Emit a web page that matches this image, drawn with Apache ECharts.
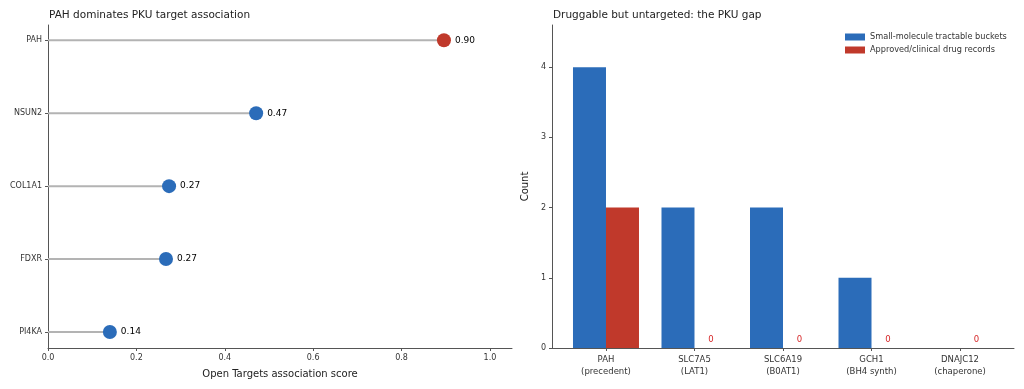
<!DOCTYPE html>
<html>
<head>
<meta charset="utf-8">
<script src="https://cdn.jsdelivr.net/npm/echarts@6/dist/echarts.min.js"></script>
<style>
    html, body { margin: 0; padding: 0; background: #fff; }
    #chart { width: 1024px; height: 389px; }
</style>
</head>
<body>
<div id="chart"></div>
<script>
    // left panel: association scores
    const targets = ['PAH', 'NSUN2', 'COL1A1', 'FDXR', 'PI4KA'];
    const scores = [0.896, 0.471, 0.274, 0.267, 0.140];
    const scoreTicks = [0, 0.2, 0.4, 0.6, 0.8, 1.0];

    // right panel: druggability counts
    const genes = ['PAH\n(precedent)', 'SLC7A5\n(LAT1)', 'SLC6A19\n(B0AT1)', 'GCH1\n(BH4 synth)', 'DNAJC12\n(chaperone)'];
    const tractable = [4, 2, 2, 1, 0];
    const approved = [2, 0, 0, 0, 0];
    const countTicks = [0, 1, 2, 3, 4];

    const BLUE = '#2b6cb9';
    const RED = '#c0392b';
    const FONT = 'DejaVu Sans';
    const idx = targets.map((_, i) => i);
    const geneIdx = genes.map((_, i) => i);

    const chart = echarts.init(document.getElementById('chart'));

    chart.setOption({
        animation: false,
        textStyle: { fontFamily: FONT },
        title: [
            { text: 'PAH dominates PKU target association', left: 44, top: 5,
              textStyle: { fontSize: 10.5, fontWeight: 'normal', color: '#222', fontFamily: FONT } },
            { text: 'Druggable but untargeted: the PKU gap', left: 548, top: 5,
              textStyle: { fontSize: 10.5, fontWeight: 'normal', color: '#222', fontFamily: FONT } }
        ],
        legend: {
            orient: 'vertical',
            left: 840,
            top: 28,
            itemWidth: 20,
            itemHeight: 7,
            itemGap: 5,
            icon: 'rect',
            textStyle: { fontSize: 8.2, color: '#333', fontFamily: FONT },
            data: ['Small-molecule tractable buckets', 'Approved/clinical drug records']
        },
        grid: [
            { left: 48, top: 25, width: 464, height: 323 },
            { left: 552, top: 25, right: 10, height: 323 }
        ],
        xAxis: [
            {
                gridIndex: 0, type: 'value', min: 0, max: 1.05,
                name: 'Open Targets association score', nameLocation: 'middle', nameGap: 21,
                nameTextStyle: { fontSize: 10, color: '#222', fontFamily: FONT },
                axisLine: { onZero: false, lineStyle: { color: '#555' } },
                axisTick: { show: true, length: 3, customValues: scoreTicks, lineStyle: { color: '#555' } },
                axisLabel: { customValues: scoreTicks, fontSize: 8, color: '#333', margin: 6,
                             formatter: v => v.toFixed(1) },
                splitLine: { show: false }
            },
            {
                gridIndex: 1, type: 'value', min: -0.61, max: 4.61,
                axisLine: { onZero: false, lineStyle: { color: '#555' } },
                axisTick: { show: true, length: 3, customValues: geneIdx, lineStyle: { color: '#555' } },
                axisLabel: { customValues: geneIdx, fontSize: 8.5, color: '#333', margin: 6, lineHeight: 12,
                             formatter: v => genes[Math.round(v)] },
                splitLine: { show: false }
            }
        ],
        yAxis: [
            {
                gridIndex: 0, type: 'value', inverse: true, min: -0.21, max: 4.22,
                axisLine: { show: true, onZero: false, lineStyle: { color: '#555' } },
                axisTick: { show: true, length: 3, customValues: idx, lineStyle: { color: '#555' } },
                axisLabel: { customValues: idx, fontSize: 8, color: '#333', margin: 6,
                             formatter: v => targets[Math.round(v)] },
                splitLine: { show: false }
            },
            {
                gridIndex: 1, type: 'value', min: 0, max: 4.6,
                name: 'Count', nameLocation: 'middle', nameGap: 22, nameRotate: 90,
                nameTextStyle: { fontSize: 10, color: '#222', fontFamily: FONT },
                axisLine: { show: true, onZero: false, lineStyle: { color: '#555' } },
                axisTick: { show: true, length: 3, customValues: countTicks, lineStyle: { color: '#555' } },
                axisLabel: { customValues: countTicks, fontSize: 8, color: '#333', margin: 6 },
                splitLine: { show: false }
            }
        ],
        series: [
            {
                type: 'custom',
                xAxisIndex: 0, yAxisIndex: 0,
                data: scores.map((v, i) => [v, i]),
                renderItem: function (params, api) {
                    const p0 = api.coord([0, api.value(1)]);
                    const p1 = api.coord([api.value(0), api.value(1)]);
                    return {
                        type: 'line',
                        shape: { x1: p0[0], y1: p0[1], x2: p1[0], y2: p1[1] },
                        style: { stroke: '#b3b3b3', lineWidth: 2 }
                    };
                },
                z: 1
            },
            {
                type: 'scatter',
                xAxisIndex: 0, yAxisIndex: 0,
                symbolSize: 14,
                data: scores.map((v, i) => ({
                    value: [v, i],
                    itemStyle: { color: i === 0 ? RED : BLUE, opacity: 1 }
                })),
                label: {
                    show: true, position: 'right', distance: 4,
                    fontSize: 9, color: '#000', fontFamily: FONT,
                    formatter: p => p.value[0].toFixed(2)
                },
                z: 3
            },
            {
                name: 'Small-molecule tractable buckets',
                type: 'bar',
                xAxisIndex: 1, yAxisIndex: 1,
                barWidth: 33,
                barGap: '0%',
                itemStyle: { color: BLUE },
                data: tractable.map((v, i) => [i, v])
            },
            {
                name: 'Approved/clinical drug records',
                type: 'bar',
                xAxisIndex: 1, yAxisIndex: 1,
                barWidth: 33,
                barGap: '0%',
                itemStyle: { color: RED },
                label: {
                    show: true, position: 'top', distance: 4,
                    fontSize: 8.5, color: '#d62728', fontFamily: FONT,
                    formatter: p => (p.value[1] === 0 ? '0' : '')
                },
                data: approved.map((v, i) => [i, v])
            }
        ]
    });
</script>
</body>
</html>
